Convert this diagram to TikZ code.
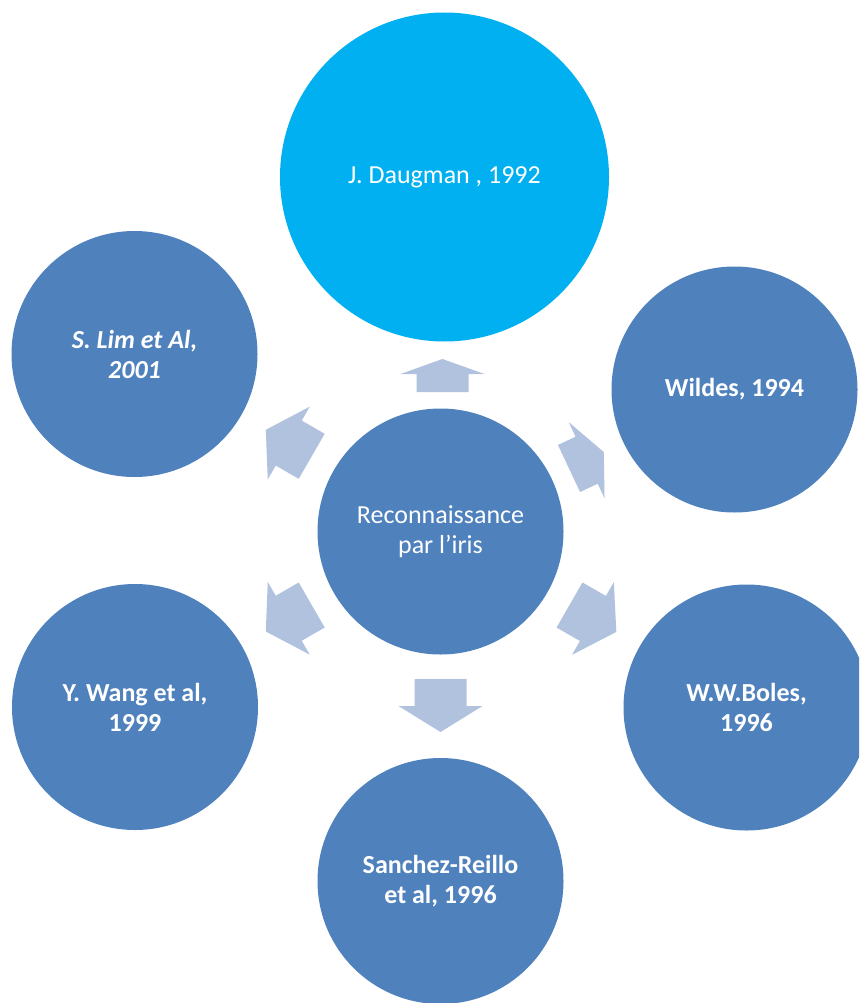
\documentclass[tikz,border=0pt]{standalone}
\usepackage{fontspec}
\setmainfont{Carlito}
\definecolor{circblue}{HTML}{4F81BD}
\definecolor{topblue}{HTML}{00B0F0}
\definecolor{arrblue}{HTML}{B1C2DF}
\tikzset{
  circ/.style={circle, fill=circblue, draw=none, inner sep=0pt, minimum size=246pt,
    text=white, align=center, font=\fontsize{26}{30}\selectfont},
  circbold/.style={circ, font=\fontsize{26}{30}\selectfont\bfseries},
  blockarrow/.style={fill=arrblue, draw=none}
}
% #1 name, #2 x, #3 y (tail middle), #4 angle, #5 total length, #6 head length
\newcommand\blockarr[6]{%
  \begin{scope}[shift={(#2,#3)}, rotate=#4]
    \coordinate (#1) at (0,0);
    \fill[blockarrow] (0,-26) -- ({#5-#6},-26) -- ({#5-#6},-42) -- (#5,0)
      -- ({#5-#6},42) -- ({#5-#6},26) -- (0,26) -- cycle;
  \end{scope}}
\begin{document}
\begin{tikzpicture}[x=1pt, y=-1pt]
  \useasboundingbox (0,0) rectangle (859,1003);
  \clip (0,0) rectangle (859,1003);
  % circles
  \node[circ, fill=topblue, minimum size=329pt] (daugman) at (444.5,177) {J. Daugman , 1992};
  \node[circ] (center) at (440.5,531.5) {Reconnaissance\\par l’iris};
  \node[circbold] (wildes) at (734.5,389.5) {Wildes, 1994};
  \node[circbold] (boles) at (746.5,707.5) {W.W.Boles,\\1996};
  \node[circbold] (sanchez) at (440.5,881) {Sanchez-Reillo\\et al, 1996};
  \node[circbold] (wang) at (135,707) {Y. Wang et al,\\1999};
  \node[circ, font=\fontsize{26}{30}\selectfont\bfseries\itshape] (lim) at (134.5,354) {S. Lim et Al,\\2001};
  % block arrows
  \blockarr{a1}{442.5}{392}{90}{33}{15}
  \blockarr{a2}{569}{468.5}{25.2}{38.5}{19}
  \blockarr{a3}{569.5}{605}{-29.9}{54}{27}
  \blockarr{a4}{440.5}{679}{-90}{53}{26}
  \blockarr{a5}{311.7}{605}{210}{53}{26.5}
  \blockarr{a6}{311.7}{456.3}{150}{53}{26.5}
\end{tikzpicture}
\end{document}
